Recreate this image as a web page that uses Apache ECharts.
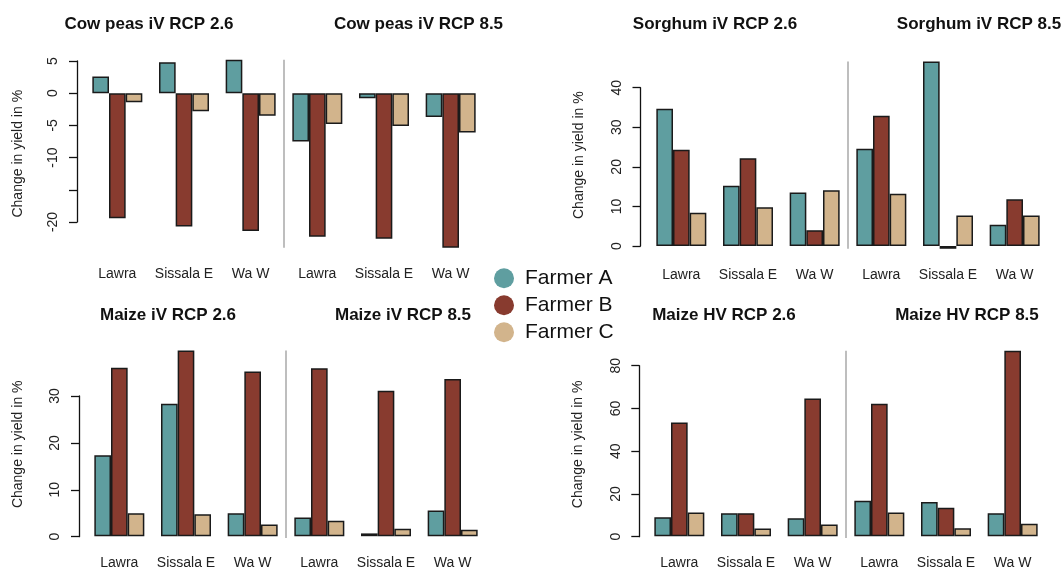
<!DOCTYPE html>
<html>
<head>
<meta charset="utf-8">
<script src="https://cdn.jsdelivr.net/npm/echarts@6/dist/echarts.min.js"></script>
<style>
html,body{margin:0;padding:0;background:#fff;}
#chart{width:1064px;height:570px;}
</style>
</head>
<body>
<div id="chart"></div>
<script>
// ---------------- DATA ----------------
const categories = ['Lawra', 'Sissala E', 'Wa W', 'Lawra', 'Sissala E', 'Wa W']; // first 3: RCP 2.6, last 3: RCP 8.5
const farmers = ['Farmer A', 'Farmer B', 'Farmer C'];

const cowpeasTitles = ['Cow peas iV RCP 2.6', 'Cow peas iV RCP 8.5'];
const cowpeasA = [2.6, 4.8, 5.2, -7.5, -0.8, -3.7];
const cowpeasB = [-19.4, -20.7, -21.4, -22.3, -22.6, -24.0];
const cowpeasC = [-1.4, -2.8, -3.5, -4.8, -5.1, -6.1];
const cowpeasTicks = [-20, -15, -10, -5, 0, 5];
const cowpeasTickLabels = ['-20', '', '-10', '-5', '0', '5'];

const sorghumTitles = ['Sorghum iV RCP 2.6', 'Sorghum iV RCP 8.5'];
const sorghumA = [34.7, 15.2, 13.5, 24.6, 46.6, 5.4];
const sorghumB = [24.3, 22.2, 4.0, 32.9, -0.7, 11.8];
const sorghumC = [8.4, 9.8, 14.1, 13.2, 7.7, 7.7];
const sorghumTicks = [0, 10, 20, 30, 40];
const sorghumTickLabels = ['0', '10', '20', '30', '40'];

const maizeIvTitles = ['Maize iV RCP 2.6', 'Maize iV RCP 8.5'];
const maizeIvA = [17.3, 28.3, 4.9, 4.0, 0.6, 5.5];
const maizeIvB = [36.0, 39.7, 35.2, 35.9, 31.1, 33.6];
const maizeIvC = [4.9, 4.7, 2.5, 3.3, 1.6, 1.4];
const maizeIvTicks = [0, 10, 20, 30];
const maizeIvTickLabels = ['0', '10', '20', '30'];

const maizeHvTitles = ['Maize HV RCP 2.6', 'Maize HV RCP 8.5'];
const maizeHvA = [8.9, 10.8, 8.4, 16.6, 16.1, 10.8];
const maizeHvB = [53.3, 10.8, 64.6, 62.1, 13.4, 87.0];
const maizeHvC = [11.1, 3.6, 5.5, 11.1, 3.7, 5.9];
const maizeHvTicks = [0, 20, 40, 60, 80];
const maizeHvTickLabels = ['0', '20', '40', '60', '80'];

const yAxisName = 'Change in yield in %';

// ---------------- STYLE / LAYOUT ----------------
const colors = ['#5F9EA0', '#883B2F', '#D2B48C'];
const FONT = 'Liberation Sans, Arial, sans-serif';

const panels = [
  { titles: cowpeasTitles, series: [cowpeasA, cowpeasB, cowpeasC], ticks: cowpeasTicks, tickLabels: cowpeasTickLabels,
    L: { axisX: 77, tickTopPx: 61, tickBotPx: 222, bandLeft: 84, bandWidth: 400, labelY: 274.5, nameX: 18.5, t1: 149, t2: 418.5, titleTop: 15.5 } },
  { titles: sorghumTitles, series: [sorghumA, sorghumB, sorghumC], ticks: sorghumTicks, tickLabels: sorghumTickLabels,
    L: { axisX: 640.5, tickTopPx: 87.7, tickBotPx: 246, bandLeft: 648, bandWidth: 400, labelY: 275.5, nameX: 579, t1: 715, t2: 979, titleTop: 15.5 } },
  { titles: maizeIvTitles, series: [maizeIvA, maizeIvB, maizeIvC], ticks: maizeIvTicks, tickLabels: maizeIvTickLabels,
    L: { axisX: 79, tickTopPx: 396, tickBotPx: 536.7, bandLeft: 86, bandWidth: 400, labelY: 564, nameX: 18.5, t1: 168, t2: 403, titleTop: 306.5 } },
  { titles: maizeHvTitles, series: [maizeHvA, maizeHvB, maizeHvC], ticks: maizeHvTicks, tickLabels: maizeHvTickLabels,
    L: { axisX: 639.3, tickTopPx: 365.7, tickBotPx: 536.7, bandLeft: 646, bandWidth: 400, labelY: 564, nameX: 578.5, t1: 724, t2: 967, titleTop: 306.5 } }
];

const grid = [], xAxis = [], yAxis = [], series = [], title = [];

panels.forEach((p, i) => {
  const L = p.L;
  const tMin = p.ticks[0], tMax = p.ticks[p.ticks.length - 1];
  const s = (L.tickBotPx - L.tickTopPx) / (tMax - tMin);
  const pix = v => L.tickBotPx - (v - tMin) * s;
  const all = [].concat(...p.series);
  const dMax = Math.max(0, ...all);
  const dMin = Math.min(...all, -0.01 * dMax);
  const gTop = pix(dMax), gBot = pix(dMin);

  const gBar = grid.length;
  grid.push({ left: L.bandLeft, top: gTop, width: L.bandWidth, height: gBot - gTop });
  const gAx = grid.length;
  grid.push({ left: L.axisX, top: L.tickTopPx, width: 10, height: L.tickBotPx - L.tickTopPx });

  // category axis of the bars
  const xCat = xAxis.length;
  xAxis.push({
    type: 'category', gridIndex: gBar, data: categories, position: 'bottom',
    axisLine: { show: false, onZero: false }, axisTick: { show: false },
    axisLabel: { interval: 0, margin: L.labelY - 7.5 - gBot, fontSize: 14, color: '#222', fontFamily: FONT },
    splitLine: { show: false }
  });
  // separator between RCP 2.6 and RCP 8.5 groups
  xAxis.push({
    type: 'value', gridIndex: gBar, min: 0, max: 6, interval: 3, position: 'top',
    axisLine: { show: false }, axisTick: { show: false }, axisLabel: { show: false },
    splitLine: { show: true, showMinLine: false, showMaxLine: false, lineStyle: { color: '#BEBEBE', width: 2 } }
  });
  // hidden x axis for the tick grid
  xAxis.push({ type: 'value', gridIndex: gAx, show: false, min: 0, max: 1 });

  const yBar = yAxis.length;
  yAxis.push({
    type: 'value', gridIndex: gBar, min: dMin, max: dMax,
    name: yAxisName, nameLocation: 'middle', nameGap: L.bandLeft - L.nameX - 7,
    nameTextStyle: { fontSize: 14, color: '#222', fontFamily: FONT },
    axisLine: { show: false }, axisTick: { show: false }, axisLabel: { show: false }, splitLine: { show: false }
  });
  yAxis.push({
    type: 'value', gridIndex: gAx, min: tMin, max: tMax, interval: p.ticks[1] - p.ticks[0], position: 'left',
    axisLine: { show: true, lineStyle: { color: '#111', width: 1.3 } },
    axisTick: { show: true, length: 8, lineStyle: { color: '#111', width: 1.3 } },
    axisLabel: {
      rotate: 90, margin: 16.5, fontSize: 14, color: '#222', fontFamily: FONT,
      formatter: v => { const k = p.ticks.indexOf(v); return k >= 0 ? p.tickLabels[k] : ''; }
    },
    splitLine: { show: false }
  });

  p.series.forEach((arr, k) => {
    series.push({
      type: 'bar', name: farmers[k], xAxisIndex: xCat, yAxisIndex: yBar,
      data: arr, barGap: '0%', barCategoryGap: '25%',
      itemStyle: { color: colors[k], borderColor: '#1a1a1a', borderWidth: 1.5 },
      emphasis: { disabled: true }
    });
  });

  title.push({ text: p.titles[0], left: L.t1, top: L.titleTop, textAlign: 'center', padding: 0,
    textStyle: { fontSize: 17, fontWeight: 'bold', color: '#111', fontFamily: FONT } });
  title.push({ text: p.titles[1], left: L.t2, top: L.titleTop, textAlign: 'center', padding: 0,
    textStyle: { fontSize: 17, fontWeight: 'bold', color: '#111', fontFamily: FONT } });
});

const chart = echarts.init(document.getElementById('chart'), null, { renderer: 'canvas' });
chart.setOption({
  animation: false,
  backgroundColor: '#fff',
  title, grid, xAxis, yAxis, series,
  legend: {
    data: farmers, orient: 'vertical', left: 489, top: 262.7, padding: 5,
    icon: 'circle', itemWidth: 20, itemHeight: 20, itemGap: 6,
    itemStyle: { borderWidth: 0 },
    textStyle: { fontSize: 21, color: '#111', fontFamily: FONT, lineHeight: 20, padding: [0, 0, 0, 6] },
    selectedMode: false
  }
});
</script>
</body>
</html>
